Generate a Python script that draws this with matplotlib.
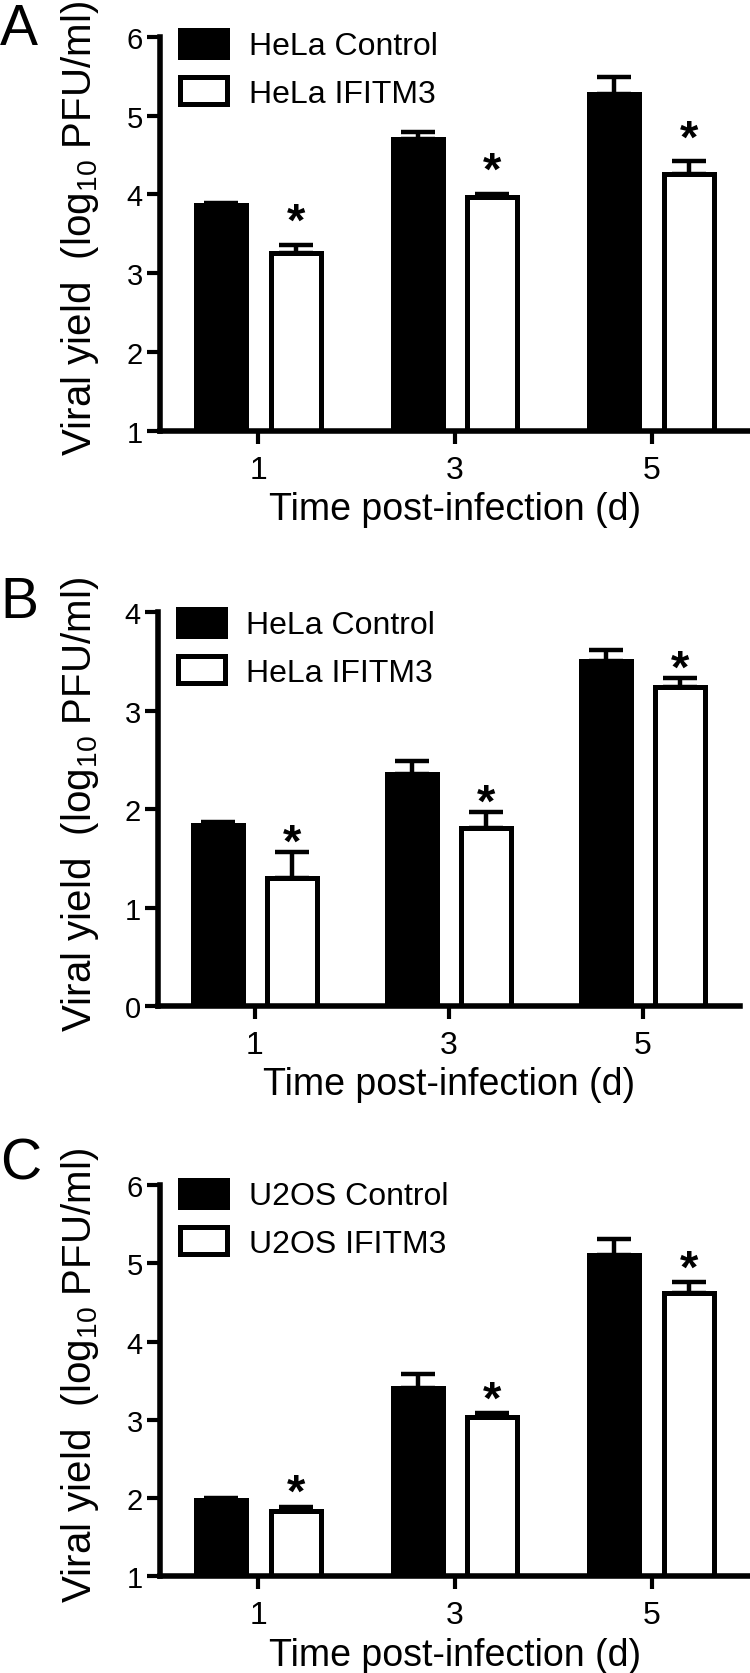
import numpy as np
import matplotlib.pyplot as plt

plt.rcParams['font.family'] = ['Liberation Sans', 'DejaVu Sans']
plt.rcParams['mathtext.fontset'] = 'custom'
plt.rcParams['mathtext.rm'] = 'Liberation Sans'
plt.rcParams['mathtext.default'] = 'regular'

# Viral yield (log10 PFU/ml), days 1, 3, 5
days = ['1', '3', '5']

a_ctrl = [3.86, 4.70, 5.27]
a_ctrl_err = [0.03, 0.09, 0.22]
a_ifitm = [3.25, 3.96, 4.26]
a_ifitm_err = [0.11, 0.05, 0.16]

b_ctrl = [1.84, 2.36, 3.51]
b_ctrl_err = [0.03, 0.13, 0.11]
b_ifitm = [1.30, 1.81, 3.24]
b_ifitm_err = [0.26, 0.16, 0.09]

c_ctrl = [1.98, 3.40, 5.10]
c_ctrl_err = [0.02, 0.18, 0.21]
c_ifitm = [1.84, 3.03, 4.62]
c_ifitm_err = [0.05, 0.06, 0.14]

W, H = 750, 1674
fig = plt.figure(figsize=(W / 100, H / 100), dpi=100)


def px_axes(left, top, right, bottom):
    return fig.add_axes([left / W, 1 - bottom / H, (right - left) / W, (bottom - top) / H])


def panel(ax, letter, ctrl, ctrl_err, ifitm, ifitm_err, ylim, labels, star_off, letter_y, leg_top):
    x = np.arange(len(days))
    lo = ylim[0]
    ax.bar(x - 0.19, np.array(ctrl) - lo, bottom=lo, width=0.255, color='k',
           edgecolor='k', linewidth=3.6, label=labels[0], zorder=2)
    ax.bar(x + 0.19, np.array(ifitm) - lo, bottom=lo, width=0.255, color='w',
           edgecolor='k', linewidth=3.6, label=labels[1], zorder=2)
    ax.errorbar(x - 0.19, ctrl, yerr=[np.zeros(3), ctrl_err], fmt='none', ecolor='k',
                elinewidth=3.2, capsize=12, capthick=3.2, zorder=1)
    ax.errorbar(x + 0.19, ifitm, yerr=[np.zeros(3), ifitm_err], fmt='none', ecolor='k',
                elinewidth=3.2, capsize=12, capthick=3.2, zorder=1)
    for xi, v, e in zip(x + 0.19, ifitm, ifitm_err):
        ax.annotate('*', xy=(xi, v + e), xytext=(0, star_off), textcoords='offset points',
                    ha='center', va='center', fontsize=34, fontweight='bold')

    ax.set_xlim(-0.5, 2.5)
    ax.set_ylim(*ylim)
    ax.set_xticks(x)
    ax.set_xticklabels(days)
    ax.set_yticks(np.arange(ylim[0], ylim[1] + 1))
    for s in ['top', 'right']:
        ax.spines[s].set_visible(False)
    for s in ['left', 'bottom']:
        ax.spines[s].set_linewidth(4)
    ax.tick_params(axis='y', length=9.4, width=3, labelsize=21, pad=3)
    ax.tick_params(axis='x', length=9.4, width=3, labelsize=23, pad=8)
    ax.set_xlabel('Time post-infection (d)', fontsize=27, labelpad=4.5)
    ax.set_ylabel('Viral yield  (log$_{10}$ PFU/ml)', fontsize=29)
    bb = ax.get_position()
    ax.yaxis.set_label_coords(-(bb.x0 * W - 101) / (bb.width * W), 0.515)
    top_px = (1 - bb.y1) * H
    ax.legend(loc='upper left', bbox_to_anchor=(0.034, 1 + (top_px - leg_top) / (bb.height * H)),
              frameon=False, fontsize=23,
              handlelength=1.47, handleheight=0.9, handletextpad=0.68,
              labelspacing=0.5, borderpad=0, borderaxespad=0)
    fig.text(0, 1 - letter_y / H, letter, fontsize=41, va='baseline', ha='left')


axA = px_axes(160, 37.7, 750, 431.7)
panel(axA, 'A', a_ctrl, a_ctrl_err, a_ifitm, a_ifitm_err, (1, 6),
      ['HeLa Control', 'HeLa IFITM3'], 15.5, 45, 31)

axB = px_axes(158, 613.3, 740, 1007)
panel(axB, 'B', b_ctrl, b_ctrl_err, b_ifitm, b_ifitm_err, (0, 4),
      ['HeLa Control', 'HeLa IFITM3'], 6, 618, 610)

axC = px_axes(160, 1186, 750, 1577.3)
panel(axC, 'C', c_ctrl, c_ctrl_err, c_ifitm, c_ifitm_err, (1, 6),
      ['U2OS Control', 'U2OS IFITM3'], 9, 1180, 1181)

fig.savefig('out.png', dpi=100)
